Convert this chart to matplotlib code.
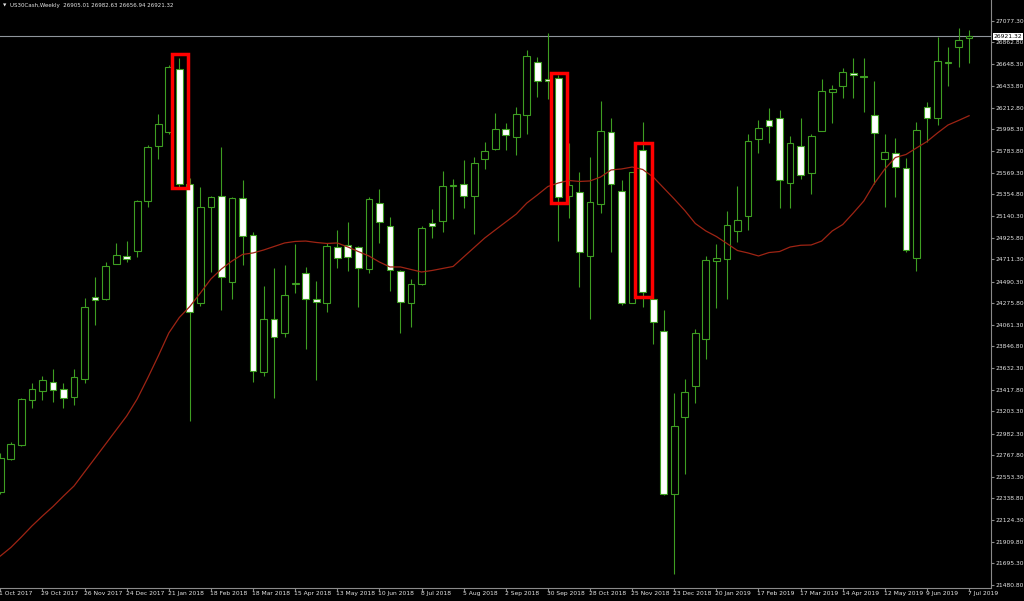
import matplotlib
matplotlib.use('Agg')
import matplotlib.pyplot as plt
from matplotlib import font_manager, transforms
from matplotlib.patches import Rectangle

# ---------------- data (weekly US30Cash, 1 Oct 2017 .. 7 Jul 2019) ----------------
open_ = [22403, 22727, 22869, 23313, 23405, 23497, 23428, 23342, 23527, 24340,
         24314, 24667, 24744, 24790, 25292, 25835, 25976, 26598, 25458, 24280,
         25233, 25339, 24483, 25322, 24952, 23590, 24116, 23977, 24470, 24575,
         24320, 24280, 24830, 24856, 24836, 24612, 25266, 25044, 24595, 24280,
         24463, 25068, 25091, 25441, 25455, 25342, 25703, 25802, 26000, 25921,
         26142, 26671, 26499, 26506, 25342, 25375, 24744, 25259, 25976, 25391,
         24280, 25798, 24314, 23997, 22380, 23150, 23457, 23918, 24697, 24711,
         24992, 25140, 25901, 26092, 26112, 25471, 25835, 25564, 25986, 26370,
         26430, 26562, 26525, 26142, 25703, 25762, 25613, 24721, 26224, 26109,
         26657, 26819, 26905.01]
high = [22790, 22902, 23335, 23487, 23554, 23623, 23487, 23623, 24324, 24532,
        24681, 24870, 24895, 25302, 25845, 26152, 26638, 26704, 25517, 25431,
        25342, 25822, 25332, 25497, 24985, 24446, 24622, 24654, 24860, 24638,
        24496, 24870, 25002, 25081, 24845, 25326, 25405, 25128, 24600, 24513,
        25041, 25207, 25590, 25507, 25696, 25729, 25877, 26165, 26066, 26218,
        26787, 26714, 26958, 26539, 25861, 25574, 25723, 26281, 26109, 25497,
        25580, 26076, 24320, 24208, 23388, 23521, 24017, 24744, 24863, 25193,
        25438, 25954, 26093, 26212, 26192, 25934, 26109, 25951, 26496, 26440,
        26605, 26704, 26704, 26479, 25954, 25911, 25713, 26076, 26274, 26913,
        26814, 27002, 26982.63]
low = [22383, 22720, 22862, 23239, 23316, 23299, 23233, 23265, 23487, 24062,
       24310, 24660, 24684, 24737, 25233, 25706, 25951, 25431, 23110, 24248,
       24588, 24208, 24314, 24654, 23497, 23557, 23332, 23937, 24374, 23821,
       23514, 24185, 24622, 24598, 24241, 24578, 24876, 24400, 23983, 24037,
       24455, 24919, 24979, 25111, 25217, 24962, 25604, 25795, 25795, 25745,
       25954, 26324, 26298, 24895, 25118, 24439, 24122, 25167, 24780, 24258,
       24275, 24241, 23871, 22373, 21587, 22582, 23289, 23719, 24231, 24317,
       24880, 25002, 25762, 25867, 25217, 25217, 25504, 25356, 25980, 26060,
       26308, 26308, 26175, 25455, 25227, 25326, 24780, 24598, 25877, 26043,
       26430, 26615, 26656.94]
close = [22740, 22876, 23322, 23422, 23511, 23412, 23338, 23541, 24235, 24307,
         24645, 24757, 24717, 25286, 25822, 26053, 26621, 25458, 24185, 25233,
         25332, 24538, 25316, 24942, 23603, 24116, 23943, 24360, 24476, 24320,
         24288, 24843, 24727, 24731, 24622, 25306, 25084, 24605, 24288, 24463,
         25021, 25041, 25438, 25448, 25342, 25669, 25788, 26000, 25944, 26152,
         26727, 26479, 26479, 25332, 25445, 24780, 25279, 25980, 25455, 24281,
         25572, 24390, 24092, 22383, 23058, 23398, 23977, 24704, 24721, 25048,
         25101, 25884, 26013, 26033, 25497, 25861, 25544, 25934, 26383, 26403,
         26572, 26536, 26519, 25967, 25775, 25626, 24803, 25993, 26115, 26681,
         26664, 26886, 26921.32]
moving_avg = [21768, 21853, 21957, 22066, 22165, 22259, 22363, 22463, 22602, 22740,
              22879, 23018, 23157, 23326, 23534, 23752, 23980, 24134, 24243, 24377,
              24516, 24615, 24694, 24759, 24774, 24803, 24838, 24873, 24888, 24892,
              24878, 24868, 24873, 24833, 24788, 24744, 24684, 24635, 24635, 24610,
              24585, 24600, 24620, 24640, 24734, 24828, 24922, 25002, 25081, 25160,
              25269, 25349, 25433, 25468, 25493, 25483, 25488, 25527, 25597, 25607,
              25626, 25602, 25527, 25418, 25309, 25195, 25066, 24992, 24937, 24868,
              24798, 24774, 24744, 24778, 24788, 24833, 24850, 24853, 24892, 24992,
              25056, 25170, 25289, 25463, 25607, 25721, 25750, 25815, 25879, 25964,
              26043, 26088, 26135]
date_labels = ['1 Oct 2017', '29 Oct 2017', '26 Nov 2017', '24 Dec 2017', '21 Jan 2018',
               '18 Feb 2018', '18 Mar 2018', '15 Apr 2018', '13 May 2018', '10 Jun 2018',
               '8 Jul 2018', '5 Aug 2018', '2 Sep 2018', '30 Sep 2018', '28 Oct 2018',
               '25 Nov 2018', '23 Dec 2018', '20 Jan 2019', '17 Feb 2019', '17 Mar 2019',
               '14 Apr 2019', '12 May 2019', '9 Jun 2019', '7 Jul 2019']
price_ticks = [27077.30, 26862.80, 26648.30, 26433.80, 26212.80, 25998.30, 25783.80,
               25569.30, 25354.80, 25140.30, 24925.80, 24711.30, 24490.30, 24275.80,
               24061.30, 23846.80, 23632.30, 23417.80, 23203.30, 22982.30, 22767.80,
               22553.30, 22338.80, 22124.30, 21909.80, 21695.30, 21480.80]
# highlighted candles: (week index, upper price, lower price)
highlight_boxes = [(17, 26744, 25415), (53, 26562, 25272), (61, 25861, 24337)]
symbol = 'US30Cash,Weekly'
last_price = 26921.32

# ---------------- style ----------------
avail = {f.name for f in font_manager.fontManager.ttflist}
if 'Liberation Sans Narrow' in avail:
    FONT, FS = 'Liberation Sans Narrow', 5.4
else:
    FONT, FS = 'DejaVu Sans', 4.3
GREEN = '#3e9e22'
AXIS = '#8a8a8a'
TXT = '#e6e6e6'

W, H = 1024, 601
fig = plt.figure(figsize=(W / 100, H / 100), dpi=100, facecolor='black')
ax = fig.add_axes([0, 13 / H, 991 / W, 588 / H])
ax.set_facecolor('black')

n = len(close)
xs = list(range(n))
ax.set_xlim(-0.03, 94.08)
ax.set_ylim(21451.0, 27282.6)

# wicks
ax.vlines(xs, low, high, colors=GREEN, linewidth=0.8, zorder=2)
# bodies
bottoms = [min(o, c) for o, c in zip(open_, close)]
heights = [max(abs(c - o), 3) for o, c in zip(open_, close)]
fills = ['black' if c >= o else 'white' for o, c in zip(open_, close)]
ax.bar(xs, heights, bottom=bottoms, width=0.64, color=fills, edgecolor=GREEN,
       linewidth=0.8, zorder=3)

# moving average
ax.plot(xs, moving_avg, color='#9e2414', linewidth=0.9, zorder=4)

# last price line
ax.axhline(last_price, color='#8f959c', linewidth=0.8, zorder=1)

# red highlight boxes
for i, hi, lo in highlight_boxes:
    ax.add_patch(Rectangle((i - 0.73, lo), 1.57, hi - lo, fill=False,
                           edgecolor='#ff0000', linewidth=2.5, zorder=6))

# axes styling
for s in ['top', 'left']:
    ax.spines[s].set_visible(False)
for s in ['right', 'bottom']:
    ax.spines[s].set_color(AXIS)
    ax.spines[s].set_linewidth(0.8)
ax.yaxis.tick_right()
ax.set_yticks(price_ticks)
ax.set_yticklabels([f'{p:.2f}' for p in price_ticks])
ax.tick_params(axis='y', colors=AXIS, labelcolor=TXT, length=2.5, width=0.8,
               pad=0.4, labelsize=FS, direction='out')
for lbl in ax.get_yticklabels():
    lbl.set_fontfamily(FONT)

ax.set_xticks(list(range(0, n, 4)))
ax.set_xticklabels([])
ax.tick_params(axis='x', colors=AXIS, length=2.5, width=0.8, direction='out')
trans = transforms.offset_copy(ax.get_xaxis_transform(), fig=fig, x=-1, y=-3, units='dots')
for k, lab in enumerate(date_labels):
    ax.text(k * 4, 0, lab, transform=trans, ha='left', va='top', color=TXT,
            fontsize=FS, fontfamily=FONT, clip_on=False)

# last price box
ax.annotate(f'{last_price:.2f}', xy=(1, last_price), xycoords=('axes fraction', 'data'),
            xytext=(3, 0), textcoords='offset pixels', ha='left', va='center',
            fontsize=FS, fontfamily=FONT, color='black', zorder=10,
            bbox=dict(boxstyle='square,pad=0.12', fc='white', ec='none'),
            annotation_clip=False)

# header
fig.text(3 / W, 1 - 5.5 / H, '\u25bc', color=TXT, fontsize=3.2, va='center', ha='left',
         fontfamily='DejaVu Sans')
hdr = f'{symbol}  {open_[-1]:.2f} {high[-1]:.2f} {low[-1]:.2f} {close[-1]:.2f}'
fig.text(10 / W, 1 - 5.5 / H, hdr, color=TXT, fontsize=FS * 0.92, va='center', ha='left',
         fontfamily=FONT)

fig.savefig('out.png', dpi=100, facecolor='black')
